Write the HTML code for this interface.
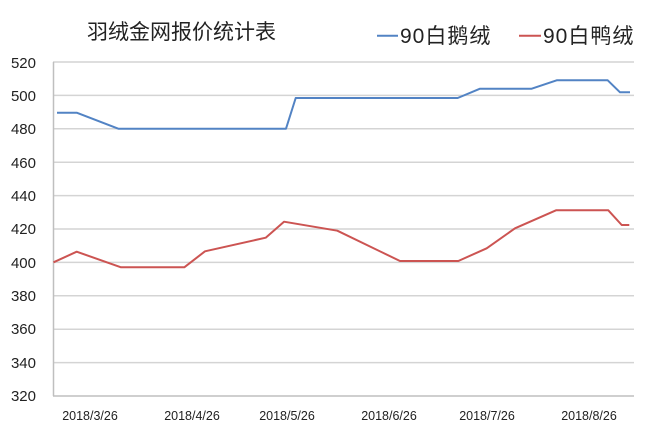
<!DOCTYPE html>
<html><head><meta charset="utf-8"><style>
html,body{margin:0;padding:0;background:#fff;}
svg{display:block;}
</style></head><body>
<svg width="655" height="433" viewBox="0 0 655 433" xmlns="http://www.w3.org/2000/svg">
<rect width="655" height="433" fill="#fff"/>
<g stroke="#d4d4d4" stroke-width="1.5">
<line x1="53" y1="62" x2="634" y2="62"/>
<line x1="53" y1="95.4" x2="634" y2="95.4"/>
<line x1="53" y1="128.8" x2="634" y2="128.8"/>
<line x1="53" y1="162.2" x2="634" y2="162.2"/>
<line x1="53" y1="195.6" x2="634" y2="195.6"/>
<line x1="53" y1="229" x2="634" y2="229"/>
<line x1="53" y1="262.4" x2="634" y2="262.4"/>
<line x1="53" y1="295.8" x2="634" y2="295.8"/>
<line x1="53" y1="329.2" x2="634" y2="329.2"/>
<line x1="53" y1="362.6" x2="634" y2="362.6"/>
</g>
<line x1="53" y1="396" x2="634" y2="396" stroke="#bfbfbf" stroke-width="1.5"/>
<line x1="53.5" y1="62" x2="53.5" y2="396" stroke="#bfbfbf" stroke-width="1.5"/>
<g font-family="Liberation Sans, sans-serif" font-size="15" fill="#222" text-anchor="end">
<text x="36" y="68">520</text>
<text x="36" y="101">500</text>
<text x="36" y="134">480</text>
<text x="36" y="168">460</text>
<text x="36" y="201">440</text>
<text x="36" y="234">420</text>
<text x="36" y="268">400</text>
<text x="36" y="301">380</text>
<text x="36" y="334">360</text>
<text x="36" y="368">340</text>
<text x="36" y="401">320</text>
</g>
<g font-family="Liberation Sans, sans-serif" font-size="12.5" fill="#222" text-anchor="middle">
<text x="90" y="420">2018/3/26</text>
<text x="192" y="420">2018/4/26</text>
<text x="287" y="420">2018/5/26</text>
<text x="389" y="420">2018/6/26</text>
<text x="487" y="420">2018/7/26</text>
<text x="589" y="420">2018/8/26</text>
</g>
<polyline fill="none" stroke="#5283c4" stroke-width="2" stroke-linejoin="round" points="57,112.7 76.7,112.7 118.3,128.7 286,128.7 295.7,98 457.7,98 480,88.7 531.7,88.7 556.7,80.3 607.7,80.3 620,92.3 630,92.3"/>
<polyline fill="none" stroke="#cc5452" stroke-width="2" stroke-linejoin="round" points="53.5,262.3 76.7,251.7 121,267.3 184.3,267.3 205,251.3 265.7,237.7 284,221.7 337.3,230.7 400,261 458.3,261 486.7,248.3 515,228.3 556,210.3 608.3,210.3 621.7,225 629.3,225"/>
<text x="87" y="39" font-family="Liberation Sans, Noto Sans CJK SC, sans-serif" font-size="21" fill="#222">羽绒金网报价统计表</text>
<line x1="377" y1="35.7" x2="398" y2="35.7" stroke="#5283c4" stroke-width="2"/>
<text x="400" y="43" font-family="Liberation Sans, Noto Sans CJK SC, sans-serif" font-size="21" fill="#222" letter-spacing="1">90白鹅绒</text>
<line x1="519" y1="35.7" x2="541" y2="35.7" stroke="#cc5452" stroke-width="2"/>
<text x="543" y="43" font-family="Liberation Sans, Noto Sans CJK SC, sans-serif" font-size="21" fill="#222" letter-spacing="1">90白鸭绒</text>
</svg>
</body></html>
